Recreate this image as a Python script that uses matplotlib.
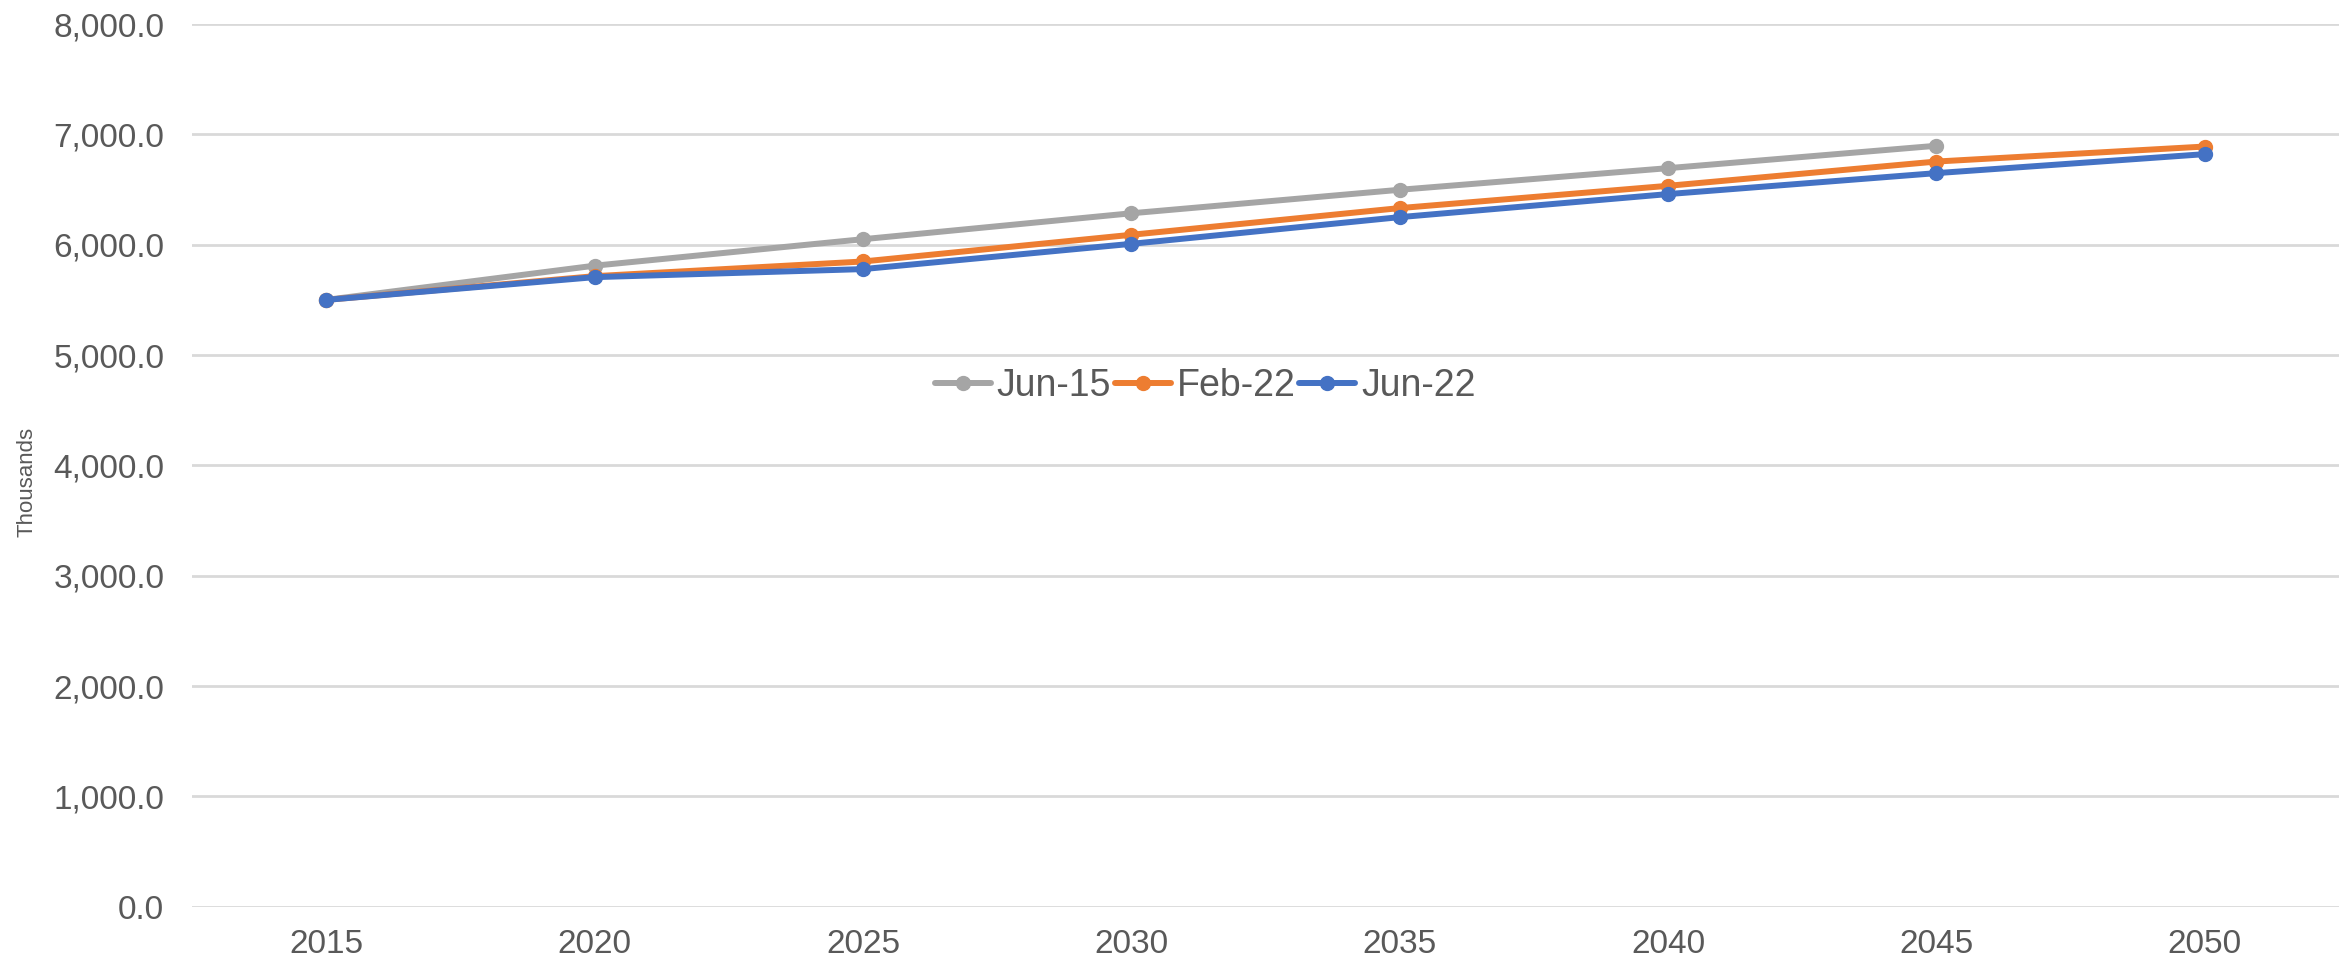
import matplotlib
matplotlib.use("Agg")
import matplotlib.pyplot as plt
from matplotlib.ticker import FuncFormatter

years = ["2015", "2020", "2025", "2030", "2035", "2040", "2045", "2050"]
jun15 = [5500, 5810, 6050, 6285, 6498, 6694, 6897, None]
feb22 = [5500, 5715, 5848, 6090, 6332, 6534, 6754, 6890]
jun22 = [5500, 5706, 5779, 6008, 6250, 6459, 6649, 6821]
series_names = ["Jun-15", "Feb-22", "Jun-22"]
colors = ["#A5A5A5", "#ED7D31", "#4472C4"]

plt.rcParams['font.family'] = ['Liberation Sans', 'DejaVu Sans']
txt = "#595959"

fig = plt.figure(figsize=(23.39, 9.63), dpi=100)
ax = fig.add_axes([0.0821, 0.0585, 0.9179, 0.9165])

x = list(range(len(years)))
for name, vals, c in zip(series_names, [jun15, feb22, jun22], colors):
    xs = [xi for xi, v in zip(x, vals) if v is not None]
    ys = [v for v in vals if v is not None]
    ax.plot(xs, ys, color=c, lw=4.3, marker='o', markersize=10, label=name,
            solid_capstyle='round')

ax.set_xlim(-0.5, len(years) - 0.5)
ax.set_ylim(0, 8000)
ax.set_yticks(range(0, 8001, 1000))
ax.yaxis.set_major_formatter(FuncFormatter(lambda v, p: f"{v:,.1f}"))
ax.set_xticks(x)
ax.set_xticklabels(years)
ax.tick_params(axis='both', length=0, labelsize=24, colors=txt)
ax.tick_params(axis='y', pad=20)
ax.tick_params(axis='x', pad=16)
ax.grid(axis='y', color='#D9D9D9', lw=2)
ax.set_axisbelow(True)
for s in ax.spines.values():
    s.set_visible(False)

fig.text(0.0115, 0.5, "Thousands", rotation=90, va='center', ha='center',
         fontsize=16, color=txt)

leg = ax.legend(loc='center', bbox_to_anchor=(1205 / 2339, 1 - 386 / 963),
                bbox_transform=fig.transFigure, ncol=3, frameon=False,
                fontsize=27, handlelength=1.5, handletextpad=0.15,
                columnspacing=0.1, labelcolor=txt)

fig.savefig("out.png", dpi=100)
